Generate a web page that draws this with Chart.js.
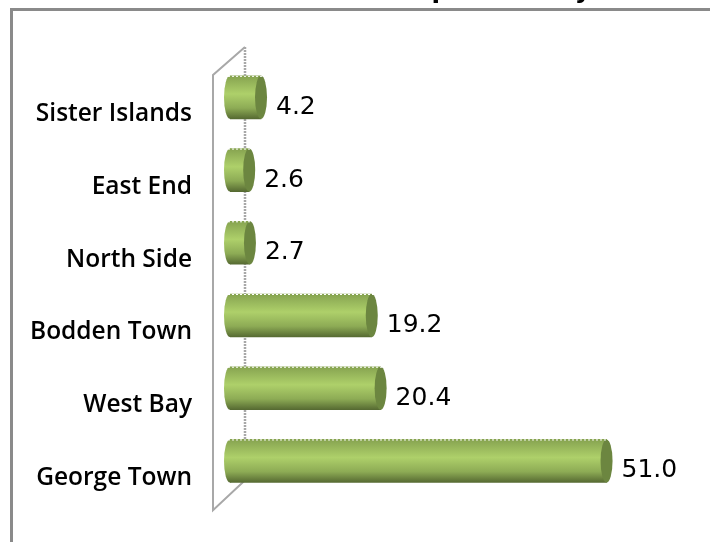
<!DOCTYPE html>
<html lang="en">
<head>
    <meta charset="UTF-8">
    <title>Population by district</title>
    <script src="https://cdn.jsdelivr.net/npm/chart.js"></script>
    <style>
        html, body { margin: 0; padding: 0; background: #fff; overflow: hidden; }
        #wrap { width: 710px; height: 542px; overflow: hidden; }
    </style>
</head>
<body>
    <!-- canvas runs a little past the window, the layout keeps a fixed strip at the bottom -->
    <div id="wrap"><canvas id="chart" width="710" height="550"></canvas></div>
    <script>
        const categories = ['Sister Islands', 'East End', 'North Side', 'Bodden Town', 'West Bay', 'George Town'];
        const shares = [4.2, 2.6, 2.7, 19.2, 20.4, 51.0];
        const titleText = 'Percent Distribution of Population by\u00A0\u00A0';

        const barHeight = 43;
        const capRadius = 6;

        function barGradient(c, y) {
            const top = y - barHeight / 2;
            const g = c.createLinearGradient(0, top, 0, top + barHeight);
            g.addColorStop(0, '#86a350');
            g.addColorStop(0.42, '#aed06a');
            g.addColorStop(0.75, '#8dab55');
            g.addColorStop(1, '#566a32');
            return g;
        }

        // outer frame, 3D wall and cylinder ends
        const cylinderPlugin = {
            id: 'cylinders',
            beforeDraw(chart) {
                const c = chart.ctx;
                const area = chart.chartArea;
                c.save();
                c.strokeStyle = '#8a8a8a';
                c.lineWidth = 3;
                c.beginPath();
                c.moveTo(11.5, chart.height);
                c.lineTo(11.5, 9.5);
                c.lineTo(chart.width, 9.5);
                c.stroke();

                const front = area.left - 17;
                const back = area.left + 15;
                c.strokeStyle = '#a8a8a8';
                c.lineWidth = 2;
                c.beginPath();
                c.moveTo(back, area.top - 14);
                c.lineTo(front, area.top + 14);
                c.lineTo(front, area.bottom + 13);
                c.lineTo(back, area.bottom - 17);
                c.stroke();
                c.setLineDash([2, 1]);
                c.lineWidth = 2.5;
                c.beginPath();
                c.moveTo(back, area.top - 14);
                c.lineTo(back, area.bottom - 17);
                c.stroke();
                c.restore();
            },
            beforeDatasetsDraw(chart) {
                const c = chart.ctx;
                chart.getDatasetMeta(0).data.forEach(el => {
                    c.save();
                    c.fillStyle = barGradient(c, el.y);
                    c.beginPath();
                    c.ellipse(el.base, el.y, capRadius, barHeight / 2, 0, 0, Math.PI * 2);
                    c.fill();
                    c.restore();
                });
            },
            afterDatasetsDraw(chart) {
                const c = chart.ctx;
                chart.getDatasetMeta(0).data.forEach((el, i) => {
                    c.save();
                    c.fillStyle = '#6c8640';
                    c.beginPath();
                    c.ellipse(el.x, el.y, capRadius, barHeight / 2, 0, 0, Math.PI * 2);
                    c.fill();
                    // ragged top edge of the bar
                    c.strokeStyle = '#ffffff';
                    c.lineWidth = 1;
                    c.setLineDash([2, 2]);
                    c.beginPath();
                    c.moveTo(el.base - capRadius, el.y - barHeight / 2 + 0.5);
                    c.lineTo(el.x + capRadius, el.y - barHeight / 2 + 0.5);
                    c.stroke();
                    c.setLineDash([]);
                    c.fillStyle = '#000000';
                    c.font = '25px "DejaVu Sans"';
                    c.textAlign = 'left';
                    c.textBaseline = 'middle';
                    c.fillText(shares[i].toFixed(1), el.x + 15, el.y + 10);
                    c.restore();
                });
            }
        };

        new Chart(document.getElementById('chart'), {
            type: 'bar',
            data: {
                labels: categories,
                datasets: [{
                    data: shares,
                    barThickness: barHeight,
                    borderWidth: 0,
                    backgroundColor(ctx) {
                        const y = ctx.dataIndex === undefined ? NaN : ctx.chart.scales.y.getPixelForValue(ctx.dataIndex);
                        if (!isFinite(y)) return '#aed06a';
                        return barGradient(ctx.chart.ctx, y);
                    }
                }]
            },
            options: {
                indexAxis: 'y',
                responsive: false,
                animation: false,
                layout: { autoPadding: false, padding: { left: 0, right: 37, top: 0, bottom: 45 } },
                plugins: {
                    legend: { display: false },
                    tooltip: { enabled: false },
                    title: {
                        display: true,
                        text: titleText,
                        color: '#000000',
                        font: { family: '"DejaVu Sans"', size: 25, weight: 'bold', lineHeight: 1.2 },
                        padding: { top: -24, bottom: 55 }
                    }
                },
                scales: {
                    x: { display: false, min: 0, max: 60 },
                    y: {
                        grid: { display: false, drawTicks: false },
                        border: { display: false },
                        afterFit(scale) { scale.width = 230; },
                        ticks: {
                            color: '#000000',
                            padding: 38,
                            labelOffset: 17,
                            font: { family: '"Open Sans"', size: 24.5, weight: '600' }
                        }
                    }
                }
            },
            plugins: [cylinderPlugin]
        });
    </script>
</body>
</html>
